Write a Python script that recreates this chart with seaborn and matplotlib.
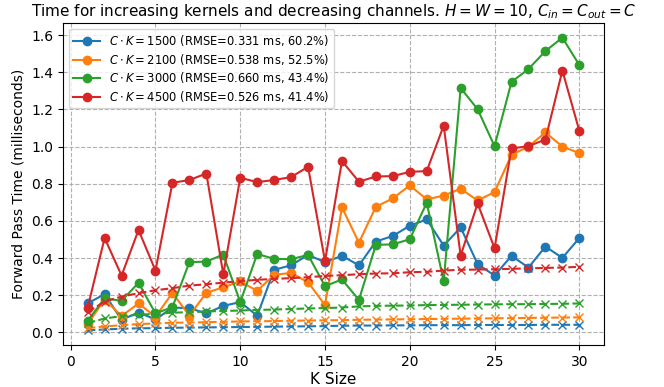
import matplotlib
matplotlib.use("Agg")
import matplotlib.pyplot as plt
import seaborn as sns
import numpy as np
import pandas as pd

k_sizes = list(range(1, 31))
ck_products = [1500, 2100, 3000, 4500]
rmse_ms = [0.331, 0.538, 0.660, 0.526]
rmse_pct = [60.2, 52.5, 43.4, 41.4]
colors = ["#1f77b4", "#ff7f0e", "#2ca02c", "#d62728"]

# measured forward pass time (ms)
measured_1500 = [0.156, 0.206, 0.068, 0.107, 0.070, 0.133, 0.131, 0.102, 0.143, 0.163,
                 0.090, 0.337, 0.361, 0.417, 0.378, 0.412, 0.361, 0.489, 0.519, 0.574,
                 0.608, 0.467, 0.565, 0.368, 0.306, 0.412, 0.349, 0.462, 0.401, 0.508]
measured_2100 = [0.045, 0.177, 0.088, 0.156, 0.084, 0.213, 0.090, 0.213, 0.243, 0.274,
                 0.224, 0.310, 0.320, 0.270, 0.147, 0.673, 0.483, 0.676, 0.721, 0.791,
                 0.716, 0.736, 0.773, 0.710, 0.755, 0.956, 1.000, 1.076, 1.000, 0.965]
measured_3000 = [0.064, 0.183, 0.170, 0.267, 0.102, 0.136, 0.378, 0.381, 0.419, 0.163,
                 0.422, 0.396, 0.394, 0.417, 0.249, 0.285, 0.175, 0.471, 0.474, 0.501,
                 0.698, 0.274, 1.315, 1.201, 1.002, 1.348, 1.417, 1.514, 1.586, 1.439]
measured_4500 = [0.133, 0.508, 0.306, 0.551, 0.333, 0.805, 0.820, 0.855, 0.313, 0.832,
                 0.809, 0.820, 0.836, 0.891, 0.383, 0.922, 0.811, 0.839, 0.841, 0.864,
                 0.868, 1.113, 0.413, 0.694, 0.453, 0.990, 1.002, 1.038, 1.409, 1.085]

# model predictions (ms)
predicted_1500 = [0.011, 0.016, 0.020, 0.022, 0.023, 0.025, 0.026, 0.027, 0.028, 0.029,
                  0.030, 0.031, 0.032, 0.033, 0.034, 0.036, 0.037, 0.037, 0.038, 0.038,
                  0.039, 0.039, 0.039, 0.040, 0.040, 0.040, 0.040, 0.041, 0.041, 0.041]
predicted_2100 = [0.023, 0.032, 0.039, 0.045, 0.048, 0.052, 0.053, 0.055, 0.057, 0.059,
                  0.060, 0.061, 0.063, 0.064, 0.065, 0.066, 0.068, 0.069, 0.070, 0.071,
                  0.072, 0.073, 0.074, 0.075, 0.076, 0.077, 0.078, 0.079, 0.080, 0.081]
predicted_3000 = [0.050, 0.075, 0.088, 0.095, 0.100, 0.106, 0.109, 0.113, 0.115, 0.118,
                  0.121, 0.123, 0.126, 0.129, 0.131, 0.134, 0.140, 0.143, 0.144, 0.145,
                  0.147, 0.148, 0.149, 0.150, 0.151, 0.152, 0.152, 0.153, 0.154, 0.156]
predicted_4500 = [0.109, 0.166, 0.193, 0.211, 0.227, 0.238, 0.252, 0.259, 0.268, 0.276,
                  0.283, 0.288, 0.292, 0.297, 0.304, 0.308, 0.313, 0.317, 0.318, 0.324,
                  0.326, 0.333, 0.337, 0.338, 0.340, 0.342, 0.345, 0.347, 0.349, 0.353]

measured = [measured_1500, measured_2100, measured_3000, measured_4500]
predicted = [predicted_1500, predicted_2100, predicted_3000, predicted_4500]

fig = plt.figure(figsize=(6.64, 3.87), dpi=100)
ax = fig.add_axes([0.095, 0.1085, 0.8145, 0.832])

for ck, err, pct, col, meas, pred in zip(ck_products, rmse_ms, rmse_pct, colors, measured, predicted):
    df = pd.DataFrame({"K": k_sizes, "measured": meas, "predicted": pred})
    sns.lineplot(data=df, x="K", y="measured", ax=ax, color=col, marker="o",
                 markersize=6, markeredgecolor=col, markeredgewidth=1, linewidth=1.5,
                 label=rf"$C \cdot K = {ck}$ (RMSE={err:.3f} ms, {pct:.1f}%)")
    sns.lineplot(data=df, x="K", y="predicted", ax=ax, color=col, marker="x",
                 markersize=6, markeredgecolor=col, markeredgewidth=1, linewidth=1.5,
                 linestyle="--", label="_nolegend_")

ax.grid(True, linestyle="--", color="#b0b0b0", linewidth=0.8)
ax.set_xlabel("K Size", fontsize=11, labelpad=2)
ax.set_ylabel("Forward Pass Time (milliseconds)", fontsize=10)
ax.set_title(r"Time for increasing kernels and decreasing channels. $H = W = 10$, $C_{in} = C_{out} = C$",
             fontsize=11, pad=5)
ax.set_xticks([0, 5, 10, 15, 20, 25, 30])
ax.set_yticks(np.arange(0, 1.61, 0.2))
ax.tick_params(labelsize=10)
ax.legend(loc="upper left", fontsize=8.3, handlelength=2.3, labelspacing=0.3)

fig.savefig("out.png", dpi=100)
